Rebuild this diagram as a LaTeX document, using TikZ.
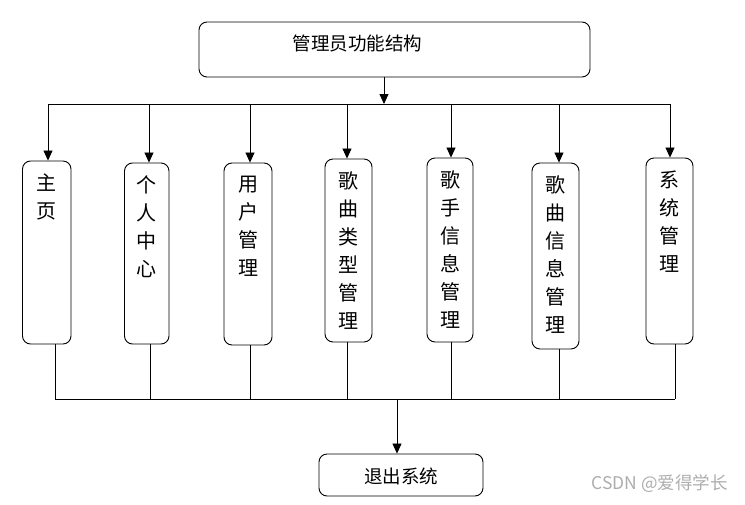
\documentclass[tikz,border=0pt]{standalone}
\usepackage{fontspec}
\setmainfont{Noto Sans CJK SC}
\usetikzlibrary{arrows.meta}
\tikzset{
  x=1pt, y=1pt,
  box/.style={draw=black, line width=0.9pt, rounded corners=8pt, inner sep=0pt},
  vtext/.style={inner sep=0pt, align=center, font=\fontsize{20pt}{28pt}\selectfont, anchor=north},
  htext/.style={inner sep=0pt, font=\fontsize{18.5pt}{22pt}\selectfont},
  link/.style={line width=0.8pt},
  arr/.style={line width=0.8pt, -{Triangle[length=10pt,width=9pt]}},
}
\begin{document}
\begin{tikzpicture}
\useasboundingbox (0,0) rectangle (745,-504);
% top box
\node[box, minimum width=391pt, minimum height=55pt] (top) at (394.5,-49.5) {};
\node[htext] (toptext) at (357.5,-43.5) {管理员功能结构};
% vertical boxes: name, left, right, top, bottom
\foreach \n/\l/\r/\t/\b in {b1/22.5/71/161/344, b2/124.5/169/163/344, b3/224/272/163/345,
  b4/325/372/159/342, b5/427/473/158/342, b6/532/579/163/349, b7/646/693/158/344}{
  \node[box, minimum width=\r-\l, minimum height=\b-\t] (\n) at ({(\l+\r)/2},{-(\t+\b)/2}) {};
}
\node[vtext] (t1) at ([yshift=-13pt]b1.north) {主\\页};
\node[vtext] (t2) at ([yshift=-13pt]b2.north) {个\\人\\中\\心};
\node[vtext] (t3) at ([yshift=-13pt]b3.north) {用\\户\\管\\理};
\node[vtext] (t4) at ([yshift=-13pt]b4.north) {歌\\曲\\类\\型\\管\\理};
\node[vtext] (t5) at ([yshift=-13pt]b5.north) {歌\\手\\信\\息\\管\\理};
\node[vtext] (t6) at ([yshift=-13pt]b6.north) {歌\\曲\\信\\息\\管\\理};
\node[vtext] (t7) at ([yshift=-13pt]b7.north) {系\\统\\管\\理};
% bottom box
\node[box, minimum width=164pt, minimum height=42pt] (exit) at (401,-475) {};
\node[htext] (exittext) at (401,-476) {退出系统};
% watermark
\node[inner sep=0pt, anchor=east, text=black!32, font=\fontsize{17.5pt}{20pt}\selectfont] (wm) at (728,-484) {CSDN @爱得学长};
% top bus
\coordinate (tl) at (48,-104);
\coordinate (tr) at (670,-104);
\coordinate (ts) at (384,0 |- top.south);
\coordinate (tm) at (384,-104);
\draw[link] (tl) -- (tr);
\draw[arr] (ts) -- (tm);
\foreach \n/\x in {b1/48, b2/149, b3/250, b4/347, b5/451, b6/559, b7/670}{
  \draw[arr] (\x,-104) -- (\x,0 |- \n.north);
}
% bottom bus
\coordinate (bl) at (55,-399);
\coordinate (br) at (675,-399);
\draw[link] (bl) -- (br);
\foreach \n/\x in {b1/55, b2/150, b3/250, b4/347, b5/451, b6/559, b7/675}{
  \draw[link] (\x,0 |- \n.south) -- (\x,-399);
}
\coordinate (bm) at (397,-399);
\coordinate (be) at (397,0 |- exit.north);
\draw[arr] (bm) -- (be);
\end{tikzpicture}
\end{document}
